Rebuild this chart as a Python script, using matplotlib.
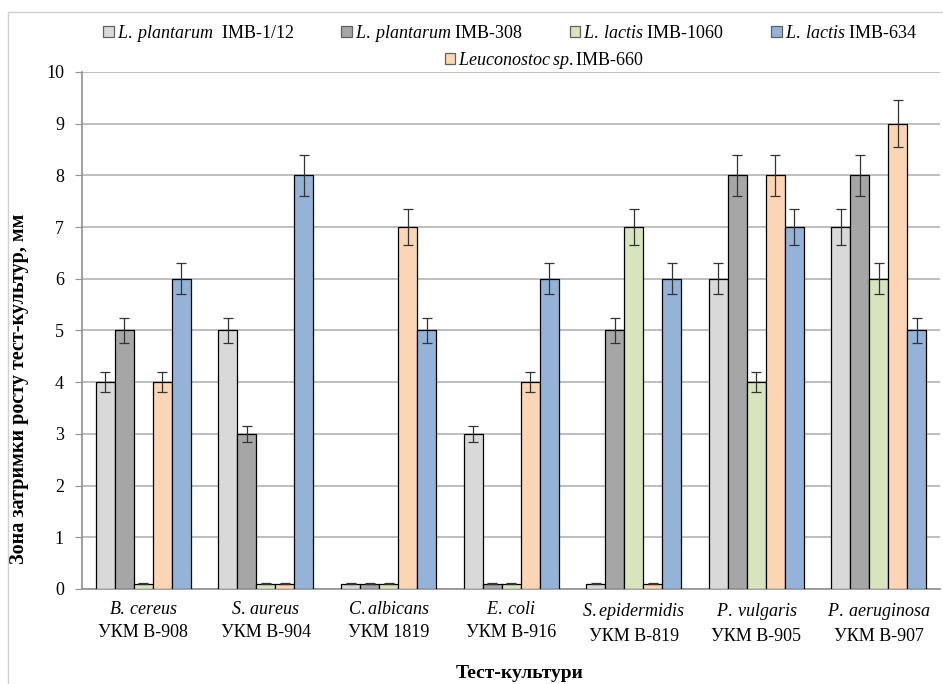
import numpy as np
import matplotlib.pyplot as plt
from matplotlib.patches import Rectangle

plt.rcParams['font.family'] = 'Liberation Serif'
plt.rcParams['mathtext.fontset'] = 'custom'
plt.rcParams['mathtext.it'] = 'Liberation Serif:italic'
plt.rcParams['mathtext.rm'] = 'Liberation Serif'

species = [r'$\it{B.\:cereus}$', r'$\it{S.\:aureus}$', r'$\it{C.albicans}$',
           r'$\it{E.\:coli}$', r'$\it{S.epidermidis}$', r'$\it{P.\:vulgaris}$',
           r'$\it{P.\:aeruginosa}$']
strains = ['УКМ В-908', 'УКМ В-904', 'УКМ 1819', 'УКМ В-916',
           'УКМ В-819', 'УКМ В-905', 'УКМ В-907']

# bars in drawing order
series_labels = [r'$\it{L.\:plantarum}$  IMB-1/12', r'$\it{L.\:plantarum}$ IMB-308',
                 r'$\it{L.\:lactis}$ IMB-1060', r'$\it{Leuconostoc\:sp.}$IMB-660',
                 r'$\it{L.\:lactis}$ IMB-634']
colors = ['#d9d9d9', '#a6a6a6', '#d7e4bd', '#fcd5b5', '#95b3d7']

plantarum_112 = [4, 5, 0.1, 3, 0.1, 6, 7]
plantarum_308 = [5, 3, 0.1, 0.1, 5, 8, 8]
lactis_1060 = [0.1, 0.1, 0.1, 0.1, 7, 4, 6]
leuconostoc_660 = [4, 0.1, 7, 4, 0.1, 8, 9]
lactis_634 = [6, 8, 5, 6, 6, 7, 5]
series = [plantarum_112, plantarum_308, lactis_1060, leuconostoc_660, lactis_634]

fig = plt.figure(figsize=(9.43, 6.84), dpi=100)
ax = fig.add_axes([0.087, 0.139, 0.91, 0.7558])

# outer chart frame
fig.patches.append(Rectangle((8/943, -0.01), 1.0, 1 - 12/684 + 0.01, transform=fig.transFigure,
                             fill=False, edgecolor='#d0d0d0', lw=1))

x = np.arange(len(species))
w = 0.155
handles = []
for i, (vals, c, lab) in enumerate(zip(series, colors, series_labels)):
    vals = np.array(vals, dtype=float)
    b = ax.bar(x + (i - 2) * w, vals, w, color=c, edgecolor='black', linewidth=0.9,
               label=lab, zorder=3)
    ax.errorbar(x + (i - 2) * w, vals, yerr=vals * 0.05, fmt='none', ecolor='#333333',
                elinewidth=0.9, capsize=3.5, capthick=0.9, zorder=4)
    handles.append(b)

ax.set_xlim(-0.5, 6.5)
ax.set_ylim(0, 10)
ax.set_yticks(range(0, 11))
ax.yaxis.grid(True, color='#b3b3b3', linewidth=1.2, zorder=0)
ax.set_axisbelow(True)
for s in ['top', 'right']:
    ax.spines[s].set_visible(False)
for s in ['left', 'bottom']:
    ax.spines[s].set_color('#909090')
    ax.spines[s].set_linewidth(1.2)
ax.tick_params(axis='y', labelsize=13, length=5, color='#909090', pad=8)
ax.set_xticks(x)
ax.set_xticklabels([f'{a}\n{b}' for a, b in zip(species, strains)], fontsize=13,
                   linespacing=1.45)
ax.tick_params(axis='x', length=0, pad=9)

ax.set_ylabel('Зона затримки росту тест-культур, мм', fontsize=14.5, fontweight='bold')
ax.yaxis.set_label_coords(-0.062, 0.388)
ax.set_xlabel('Тест-культури', fontsize=14, fontweight='bold')
ax.xaxis.set_label_coords(0.51, -0.147)

order = [0, 1, 2, 4]
leg1 = fig.legend([handles[i] for i in order], [series_labels[i] for i in order],
                  loc='center', bbox_to_anchor=(0.541, 0.951), ncol=4, frameon=False,
                  fontsize=13, handlelength=0.6, handleheight=0.6, handletextpad=0.15,
                  columnspacing=2.6)
leg2 = fig.legend([handles[3]], [series_labels[3]], loc='center',
                  bbox_to_anchor=(0.577, 0.912), frameon=False, fontsize=13,
                  handlelength=0.6, handleheight=0.6, handletextpad=0.15)
for leg in (leg1, leg2):
    for p in leg.get_patches():
        p.set_edgecolor('#606060')

fig.savefig('out.png', dpi=100)
